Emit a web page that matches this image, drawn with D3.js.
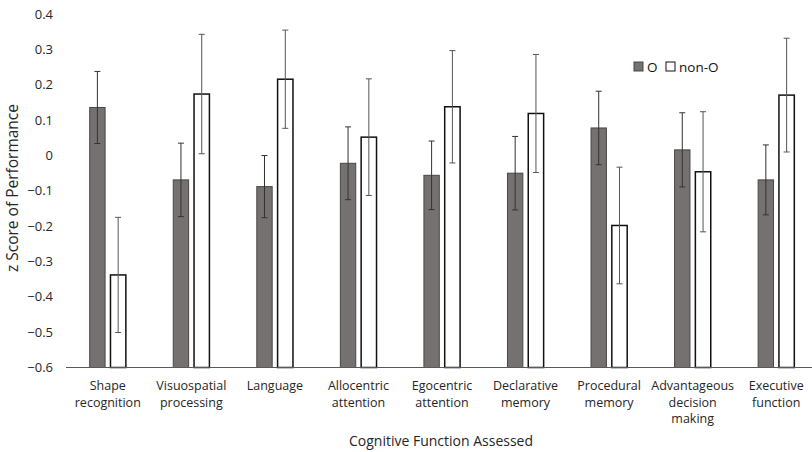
<!DOCTYPE html>
<html>
<head>
<meta charset="utf-8">
<script src="https://cdn.jsdelivr.net/npm/d3@7"></script>
<style>
body{margin:0;background:#fff;}
svg{font-family:"Open Sans",sans-serif;}
</style>
</head>
<body>
<svg id="svg" width="812" height="452"></svg>
<script>
var categories=[
	["Shape","recognition"],
	["Visuospatial","processing"],
	["Language"],
	["Allocentric","attention"],
	["Egocentric","attention"],
	["Declarative","memory"],
	["Procedural","memory"],
	["Advantageous","decision","making"],
	["Executive","function"]
];
var oValues=[0.136,-0.069,-0.088,-0.022,-0.056,-0.050,0.078,0.016,-0.069];
var oErrors=[0.102,0.104,0.088,0.103,0.097,0.104,0.104,0.105,0.099];
var nonOValues=[-0.338,0.174,0.216,0.052,0.138,0.119,-0.198,-0.046,0.171];
var nonOErrors=[0.163,0.169,0.139,0.165,0.159,0.167,0.165,0.170,0.161];
var yTicks=[0.4,0.3,0.2,0.1,0,-0.1,-0.2,-0.3,-0.4,-0.5,-0.6];

var svg=d3.select("#svg");

var padding={top:14,left:66};
var plotRight=818;

var yscale=d3.scaleLinear()
.domain([-0.6,0.4])
.range([367.5,14.2]);

var xscale=d3.scaleBand()
.domain(categories.map(function(d,i){return i;}))
.range([padding.left,plotRight]);

var inner=d3.scaleBand()
.domain(["O","non-O"])
.range([0,xscale.bandwidth()])
.paddingInner(0.26)
.paddingOuter(1.14);

// y tick labels (no axis line, no gridlines)
svg.append("g").selectAll("text").data(yTicks).enter()
.append("text")
.attr("x",53)
.attr("y",function(d){return yscale(d);})
.attr("dy","0.35em")
.attr("text-anchor","end")
.attr("font-size",13)
.attr("fill","#262626")
.text(function(d){return d===0?"0":d3.format(".1f")(d);});

var rows=[];
categories.forEach(function(c,i){
	rows.push({cat:i,series:"O",value:oValues[i],err:oErrors[i]});
	rows.push({cat:i,series:"non-O",value:nonOValues[i],err:nonOErrors[i]});
});

var bars=svg.append("g");
bars.selectAll("rect").data(rows).enter()
.append("rect")
.attr("x",function(d){return xscale(d.cat)+inner(d.series);})
.attr("y",function(d){return yscale(d.value);})
.attr("width",inner.bandwidth())
.attr("height",function(d){return yscale(-0.6)-yscale(d.value);})
.attr("fill",function(d){return d.series==="O"?"#757171":"#fff";})
.attr("stroke",function(d){return d.series==="O"?"#4a4646":"#111";})
.attr("stroke-width",function(d){return d.series==="O"?1:1.5;});

// x axis line
svg.append("line")
.attr("x1",padding.left).attr("x2",812)
.attr("y1",yscale(-0.6)).attr("y2",yscale(-0.6))
.attr("stroke","#595959").attr("stroke-width",1);

// error bars
var eb=svg.append("g").attr("stroke-width",1);
rows.forEach(function(d){
	var cx=xscale(d.cat)+inner(d.series)+inner.bandwidth()/2;
	var top=yscale(d.value+d.err),bot=yscale(d.value-d.err);
	var col=d.series==="O"?"#333":"#555";
	eb.append("line").attr("stroke",col).attr("x1",cx).attr("x2",cx).attr("y1",top).attr("y2",bot);
	eb.append("line").attr("stroke",col).attr("x1",cx-3).attr("x2",cx+3).attr("y1",top).attr("y2",top);
	eb.append("line").attr("stroke",col).attr("x1",cx-3).attr("x2",cx+3).attr("y1",bot).attr("y2",bot);
});

// category labels
var lab=svg.append("g").selectAll("text").data(categories).enter()
.append("text")
.attr("text-anchor","middle")
.attr("font-size",12.5)
.attr("fill","#262626")
.attr("transform",function(d,i){return "translate("+(xscale(i)+xscale.bandwidth()/2)+",390)";});
lab.selectAll("tspan").data(function(d){return d;}).enter()
.append("tspan")
.attr("x",0)
.attr("dy",function(d,i){return i===0?0:16.5;})
.text(function(d){return d;});

// axis titles
svg.append("text")
.attr("x",441).attr("y",446)
.attr("text-anchor","middle")
.attr("font-size",14)
.attr("fill","#262626")
.text("Cognitive Function Assessed");

svg.append("text")
.attr("transform","translate(18,188) rotate(-90)")
.attr("text-anchor","middle")
.attr("font-size",15.5)
.attr("fill","#262626")
.text("z Score of Performance");

// legend
var legend=svg.append("g").attr("transform","translate(634,62)");
var legendItems=[{name:"O",fill:"#757171",stroke:"#4a4646",x:0},{name:"non-O",fill:"#fff",stroke:"#111",x:32}];
legendItems.forEach(function(l){
	legend.append("rect").attr("x",l.x).attr("y",0).attr("width",9).attr("height",9)
	.attr("fill",l.fill).attr("stroke",l.stroke);
	legend.append("text").attr("x",l.x+13).attr("y",9.5)
	.attr("font-size",13.5).attr("fill","#111").text(l.name);
});
</script>
</body>
</html>
